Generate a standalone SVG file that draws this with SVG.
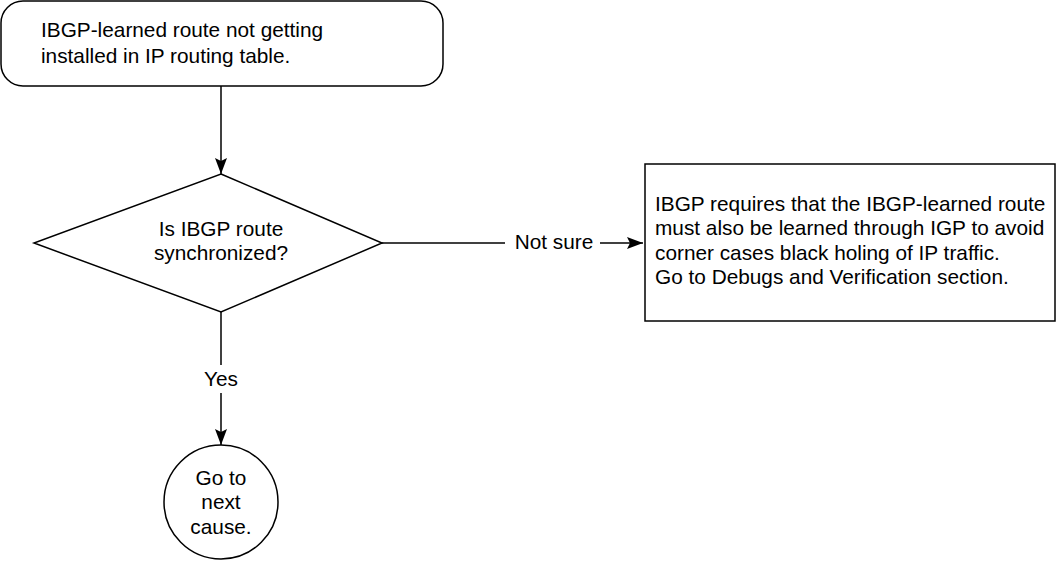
<svg xmlns="http://www.w3.org/2000/svg" width="1056" height="562" viewBox="0 0 1056 562">
<style>
.s{fill:#fff;stroke:#000;stroke-width:1.5}
.t{font-family:"Liberation Sans",Arial,sans-serif;font-size:20.8px;fill:#000}
.c{stroke:#000;stroke-width:1.5;fill:none}
</style>
<defs>
<marker id="a" viewBox="0 0 16 12" refX="16" refY="6" markerWidth="16" markerHeight="12" markerUnits="userSpaceOnUse" orient="auto">
<path d="M0,0 L16,6 L0,12 L3,6 Z" fill="#000"/>
</marker>
</defs>
<rect width="1056" height="562" fill="#fff"/>
<g id="start">
<rect class="s" x="1" y="1" width="442" height="85" rx="22"/>
<text class="t" x="41" y="37">IBGP-learned route not getting</text>
<text class="t" x="41" y="63">installed in IP routing table.</text>
</g>
<g id="decision">
<polygon class="s" points="221,174 382,243 221,312 34,243"/>
<text class="t" x="221" y="236" text-anchor="middle">Is IBGP route</text>
<text class="t" x="221" y="260" text-anchor="middle">synchronized?</text>
</g>
<g id="info">
<rect class="s" x="645" y="164" width="410" height="157"/>
<text class="t" x="655" y="211">IBGP requires that the IBGP-learned route</text>
<text class="t" x="655" y="235">must also be learned through IGP to avoid</text>
<text class="t" x="655" y="260">corner cases black holing of IP traffic.</text>
<text class="t" x="655" y="284">Go to Debugs and Verification section.</text>
</g>
<g id="next">
<circle class="s" cx="221" cy="502" r="57"/>
<text class="t" x="221" y="485" text-anchor="middle">Go to</text>
<text class="t" x="221" y="509" text-anchor="middle">next</text>
<text class="t" x="221" y="534" text-anchor="middle">cause.</text>
</g>
<g id="connectors">
<line class="c" x1="221" y1="86" x2="221" y2="174" marker-end="url(#a)"/>
<line class="c" x1="382" y1="243" x2="505" y2="243"/>
<text class="t" x="554" y="249" text-anchor="middle">Not sure</text>
<line class="c" x1="600" y1="243" x2="643" y2="243" marker-end="url(#a)"/>
<line class="c" x1="221" y1="312" x2="221" y2="365"/>
<text class="t" x="221" y="386" text-anchor="middle">Yes</text>
<line class="c" x1="221" y1="393" x2="221" y2="445" marker-end="url(#a)"/>
</g>
</svg>
